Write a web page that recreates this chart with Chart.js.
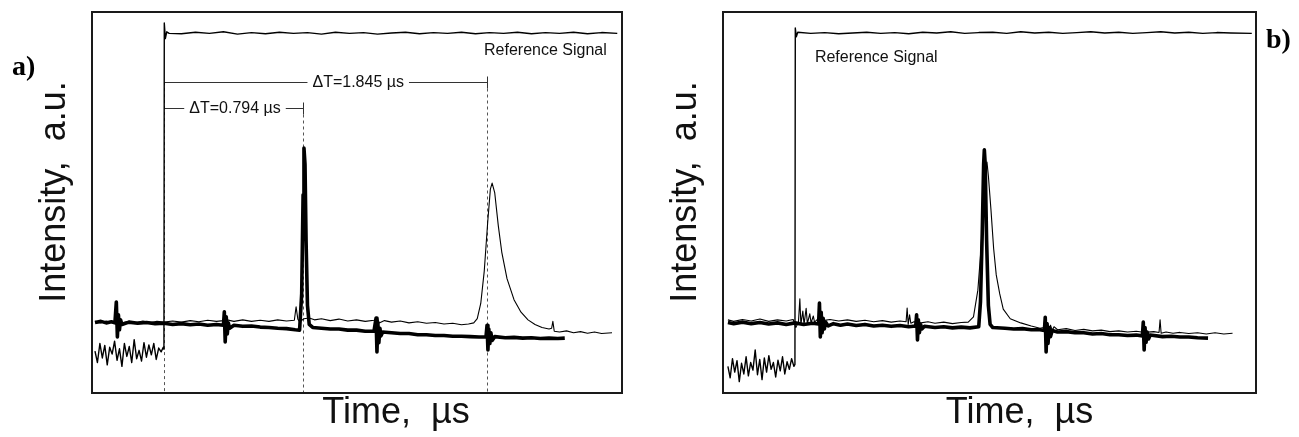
<!DOCTYPE html>
<html>
<head>
<meta charset="utf-8">
<script src="https://cdn.jsdelivr.net/npm/chart.js@4.4.1/dist/chart.umd.min.js"></script>
<style>
  body { margin: 0; background: #fff; }
  #wrap { position: relative; width: 1299px; height: 437px; }
  canvas { position: absolute; top: 0; }
  #chartA { left: 0; }
  #chartB { left: 650px; }
</style>
</head>
<body>
<div id="wrap">
  <canvas id="chartA" width="650" height="437"></canvas>
  <canvas id="chartB" width="649" height="437"></canvas>
</div>
<script>
// time axis in µs (reference step at t = 0), intensity in a.u.
const xRangeA = [-0.411, 2.617];
const xRangeB = [-0.411, 2.634];
const yRange = [0, 10];

// measured delays in panel a)
const dtValues = [0.794, 1.845];
const dtLevels = [7.48, 8.16];
const dtLabelT = [0.406, 1.11];

// where the "Reference Signal" caption sits [t, a.u.]
const refLabelA = [2.53, 8.87];
const refLabelB = [0.114, 8.68];

// ---- panel a) traces [t, intensity] ----
const refA = [
  [-0.394,1.10],[-0.38,0.80],[-0.366,1.30],[-0.352,0.92],[-0.338,1.25],[-0.324,0.74],[-0.31,1.20],
  [-0.296,1.02],[-0.282,1.36],[-0.268,0.86],[-0.254,1.16],[-0.24,0.70],[-0.226,1.30],[-0.212,0.96],
  [-0.198,1.22],[-0.184,0.80],[-0.17,1.40],[-0.156,0.90],[-0.142,1.12],[-0.128,0.84],[-0.114,1.32],
  [-0.1,0.94],[-0.086,1.26],[-0.072,1.00],[-0.058,1.30],[-0.044,0.88],[-0.03,1.18],[-0.016,1.08],
  [-0.004,1.20],[0.0,1.15],[0.002,9.71],[0.008,9.30],[0.016,9.48],[0.03,9.44],
  [0.1,9.43],[0.18,9.47],[0.26,9.44],[0.34,9.48],[0.42,9.42],[0.5,9.46],[0.58,9.43],[0.66,9.47],
  [0.74,9.44],[0.82,9.46],[0.9,9.42],[0.98,9.47],[1.06,9.44],[1.14,9.46],[1.22,9.42],[1.3,9.45],
  [1.38,9.47],[1.46,9.43],[1.54,9.46],[1.62,9.44],[1.7,9.47],[1.78,9.43],[1.86,9.46],[1.94,9.44],
  [2.02,9.47],[2.1,9.43],[2.18,9.46],[2.26,9.44],[2.34,9.47],[2.42,9.43],[2.5,9.46],[2.59,9.44]
];
const thinA = [
  [-0.394,1.88],[-0.36,1.84],[-0.33,1.89],[-0.3,1.85],[-0.27,1.90],[-0.24,1.84],[-0.2,1.88],
  [-0.16,1.85],[-0.12,1.89],[-0.08,1.84],[-0.04,1.88],[0,1.86],[0.05,1.89],[0.1,1.86],[0.15,1.90],
  [0.2,1.87],[0.25,1.91],[0.3,1.88],[0.34,1.90],[0.35,2.00],[0.355,1.78],[0.36,1.92],[0.4,1.88],
  [0.45,1.92],[0.5,1.88],[0.55,1.91],[0.6,1.88],[0.65,1.92],[0.7,1.89],[0.745,1.91],[0.755,2.26],
  [0.765,1.94],[0.775,1.87],[0.8,1.95],[0.83,1.97],[0.86,1.92],[0.9,1.95],[0.95,1.90],[1.0,1.94],
  [1.05,1.89],[1.1,1.92],[1.15,1.88],[1.2,1.91],[1.22,1.96],[1.23,1.84],[1.26,1.90],[1.3,1.86],
  [1.35,1.89],[1.4,1.84],[1.45,1.87],[1.5,1.83],[1.55,1.85],[1.6,1.81],[1.65,1.83],[1.7,1.79],
  [1.74,1.81],[1.77,1.84],[1.79,1.95],[1.81,2.35],[1.83,3.2],[1.85,4.5],[1.865,5.35],[1.875,5.51],
  [1.89,5.25],[1.91,4.4],[1.93,3.7],[1.96,3.0],[2.0,2.45],[2.04,2.12],[2.08,1.92],[2.12,1.80],
  [2.16,1.72],[2.2,1.68],[2.215,1.70],[2.222,1.88],[2.23,1.62],[2.26,1.60],[2.3,1.63],[2.34,1.58],
  [2.38,1.61],[2.42,1.57],[2.46,1.60],[2.5,1.56],[2.56,1.58]
];
const boldA = [
  [-0.394,1.85],[-0.36,1.88],[-0.33,1.84],[-0.3,1.87],[-0.28,1.84],[-0.272,2.39],[-0.266,1.47],
  [-0.26,2.05],[-0.254,1.66],[-0.248,1.92],[-0.24,1.80],[-0.2,1.86],[-0.15,1.83],[-0.1,1.85],
  [-0.05,1.82],[0,1.83],[0.05,1.80],[0.1,1.82],[0.15,1.79],[0.2,1.81],[0.25,1.78],[0.3,1.80],
  [0.34,1.78],[0.345,2.13],[0.35,1.34],[0.356,2.0],[0.362,1.55],[0.368,1.84],[0.375,1.70],
  [0.4,1.78],[0.45,1.75],[0.5,1.76],[0.55,1.73],[0.6,1.72],[0.65,1.70],[0.7,1.69],[0.75,1.66],
  [0.775,1.65],[0.787,2.6],[0.795,5.2],[0.8,6.43],[0.806,6.0],[0.812,4.0],[0.82,2.3],[0.83,1.80],
  [0.85,1.72],[0.9,1.70],[0.95,1.68],[1.0,1.68],[1.05,1.65],[1.1,1.65],[1.15,1.62],[1.2,1.62],
  [1.212,1.97],[1.217,1.08],[1.222,1.85],[1.228,1.32],[1.234,1.70],[1.24,1.50],[1.25,1.60],
  [1.3,1.58],[1.35,1.56],[1.4,1.56],[1.45,1.53],[1.5,1.53],[1.55,1.51],[1.6,1.51],[1.65,1.49],
  [1.7,1.49],[1.75,1.48],[1.8,1.47],[1.84,1.47],[1.846,1.78],[1.851,1.13],[1.856,1.68],
  [1.862,1.30],[1.868,1.58],[1.875,1.38],[1.89,1.48],[1.95,1.45],[2.0,1.46],[2.05,1.44],
  [2.1,1.45],[2.15,1.43],[2.2,1.44],[2.25,1.43],[2.29,1.44]
];

// ---- panel b) traces ----
const refB = [
  [-0.383,0.70],[-0.37,0.40],[-0.357,0.90],[-0.344,0.55],[-0.331,0.85],[-0.318,0.30],[-0.305,0.78],
  [-0.292,0.50],[-0.279,0.95],[-0.266,0.45],[-0.253,0.80],[-0.24,0.60],[-0.227,1.13],[-0.214,0.48],
  [-0.201,0.88],[-0.188,0.35],[-0.175,0.92],[-0.162,0.55],[-0.149,0.98],[-0.136,0.62],[-0.123,0.80],
  [-0.11,0.42],[-0.097,0.86],[-0.084,0.58],[-0.071,0.95],[-0.058,0.50],[-0.045,0.82],[-0.032,0.62],
  [-0.019,0.90],[-0.006,0.70],[0,0.75],[0.002,9.58],[0.008,9.35],[0.016,9.47],
  [0.09,9.44],[0.17,9.46],[0.25,9.43],[0.33,9.45],[0.41,9.47],[0.49,9.44],[0.57,9.46],[0.65,9.43],
  [0.73,9.47],[0.81,9.45],[0.89,9.48],[0.97,9.44],[1.05,9.46],[1.13,9.47],[1.21,9.44],[1.29,9.48],
  [1.37,9.45],[1.45,9.47],[1.53,9.44],[1.61,9.46],[1.69,9.48],[1.77,9.45],[1.85,9.47],[1.93,9.44],
  [2.01,9.46],[2.09,9.48],[2.17,9.45],[2.25,9.47],[2.33,9.44],[2.41,9.46],[2.49,9.45],[2.61,9.44]
];
const thinB = [
  [-0.383,1.92],[-0.35,1.88],[-0.3,1.93],[-0.25,1.89],[-0.2,1.94],[-0.15,1.88],[-0.1,1.92],
  [-0.05,1.89],[-0.01,1.93],[0.005,1.72],[0.02,1.86],[0.028,2.47],[0.034,1.80],[0.045,2.15],
  [0.052,1.80],[0.064,2.22],[0.071,1.82],[0.085,2.08],[0.092,1.84],[0.105,2.02],[0.112,1.86],
  [0.13,1.94],[0.16,1.90],[0.2,1.93],[0.25,1.89],[0.3,1.92],[0.35,1.88],[0.4,1.91],[0.45,1.87],
  [0.5,1.90],[0.55,1.86],[0.6,1.89],[0.635,1.87],[0.641,2.23],[0.647,1.80],[0.655,2.05],[0.662,1.83],
  [0.68,1.87],[0.72,1.84],[0.76,1.87],[0.8,1.83],[0.85,1.86],[0.9,1.82],[0.95,1.85],[0.99,1.86],
  [1.02,2.0],[1.045,2.7],[1.06,3.6],[1.075,4.7],[1.09,5.7],[1.097,6.06],[1.105,5.7],[1.12,4.8],
  [1.135,3.8],[1.15,3.1],[1.17,2.6],[1.19,2.2],[1.23,1.95],[1.29,1.84],[1.35,1.76],[1.4,1.70],
  [1.42,1.72],[1.43,1.90],[1.437,1.64],[1.445,1.82],[1.452,1.62],[1.46,1.78],[1.47,1.64],[1.48,1.74],
  [1.5,1.66],[1.55,1.69],[1.6,1.64],[1.65,1.67],[1.7,1.63],[1.75,1.65],[1.8,1.61],[1.85,1.63],
  [1.9,1.60],[1.95,1.62],[2.0,1.59],[2.05,1.61],[2.08,1.59],[2.086,1.92],[2.092,1.57],[2.12,1.60],
  [2.16,1.57],[2.2,1.59],[2.25,1.56],[2.3,1.58],[2.35,1.55],[2.4,1.58],[2.45,1.55],[2.5,1.57]
];
const boldB = [
  [-0.383,1.85],[-0.35,1.82],[-0.3,1.86],[-0.25,1.82],[-0.2,1.85],[-0.15,1.81],[-0.1,1.84],
  [-0.05,1.80],[0,1.84],[0.05,1.80],[0.1,1.83],[0.135,1.81],[0.14,2.36],[0.145,1.47],[0.15,2.12],
  [0.155,1.58],[0.161,1.96],[0.168,1.68],[0.175,1.86],[0.19,1.76],[0.22,1.82],[0.26,1.78],
  [0.3,1.81],[0.35,1.77],[0.4,1.80],[0.45,1.76],[0.5,1.78],[0.55,1.75],[0.6,1.77],[0.65,1.74],
  [0.69,1.76],[0.695,2.05],[0.7,1.39],[0.705,1.92],[0.711,1.58],[0.718,1.80],[0.725,1.68],
  [0.74,1.75],[0.8,1.72],[0.85,1.74],[0.9,1.71],[0.95,1.73],[1.0,1.71],[1.05,1.74],[1.06,2.4],
  [1.07,4.2],[1.078,6.0],[1.082,6.38],[1.087,6.0],[1.095,4.0],[1.105,2.3],[1.115,1.80],[1.13,1.72],
  [1.2,1.70],[1.25,1.68],[1.3,1.69],[1.35,1.66],[1.4,1.66],[1.425,1.64],[1.43,1.99],[1.435,1.08],
  [1.44,1.82],[1.446,1.30],[1.452,1.72],[1.46,1.48],[1.47,1.64],[1.5,1.60],[1.55,1.61],[1.6,1.58],
  [1.65,1.58],[1.7,1.55],[1.75,1.56],[1.8,1.53],[1.85,1.53],[1.9,1.51],[1.95,1.52],[1.985,1.50],
  [1.99,1.86],[1.995,1.13],[2.0,1.72],[2.006,1.33],[2.012,1.60],[2.02,1.42],[2.03,1.52],[2.1,1.48],
  [2.15,1.49],[2.2,1.47],[2.25,1.47],[2.3,1.45],[2.36,1.44]
];

const SANS = '"Liberation Sans", Arial, Helvetica, sans-serif';

function trace(points, width) {
  return {
    data: points.map(p => ({ x: p[0], y: p[1] })),
    borderColor: '#000',
    borderWidth: width,
    borderJoinStyle: 'round',
    pointRadius: 0,
    tension: 0,
    fill: false
  };
}

// frame, annotations, axis titles and panel letter
const framePlugin = {
  id: 'frame',
  beforeDatasetsDraw(chart, args, opts) {
    if (!opts.deltas) return;
    const { ctx, chartArea: a, scales: { x, y } } = chart;
    const x0 = Math.round(x.getPixelForValue(0)) + 0.5;
    ctx.save();
    ctx.font = '16px ' + SANS;
    ctx.lineWidth = 1;
    // dashed line under the step
    ctx.setLineDash([3, 3]);
    ctx.strokeStyle = '#555';
    ctx.beginPath();
    ctx.moveTo(x0, y.getPixelForValue(Math.max(...dtLevels)));
    ctx.lineTo(x0, a.bottom);
    ctx.stroke();
    dtValues.forEach((dt, i) => {
      const yy = Math.round(y.getPixelForValue(dtLevels[i])) + 0.5;
      const x1 = Math.round(x.getPixelForValue(dt)) + 0.5;
      const label = 'ΔT=' + dt.toFixed(3) + ' µs';
      const w = ctx.measureText(label).width;
      const xc = x.getPixelForValue(dtLabelT[i]);
      ctx.setLineDash([3, 3]);
      ctx.strokeStyle = '#555';
      ctx.beginPath();
      ctx.moveTo(x1, yy);
      ctx.lineTo(x1, a.bottom);
      ctx.stroke();
      ctx.setLineDash([]);
      ctx.strokeStyle = '#333';
      ctx.beginPath();
      ctx.moveTo(x0, yy); ctx.lineTo(xc - w / 2 - 5, yy);
      ctx.moveTo(xc + w / 2 + 5, yy); ctx.lineTo(x1, yy);
      ctx.moveTo(x1, yy - 6); ctx.lineTo(x1, yy + 6);
      ctx.stroke();
      ctx.fillStyle = '#111';
      ctx.textAlign = 'center';
      ctx.textBaseline = 'middle';
      ctx.fillText(label, xc, yy);
    });
    ctx.restore();
  },
  afterDraw(chart, args, opts) {
    const { ctx, chartArea: a, scales: { x, y } } = chart;
    ctx.save();
    ctx.strokeStyle = '#1a1a1a';
    ctx.lineWidth = 2;
    ctx.strokeRect(a.left, a.top, a.right - a.left, a.bottom - a.top);

    ctx.fillStyle = '#111';
    ctx.font = '16px ' + SANS;
    ctx.textAlign = opts.refAlign;
    ctx.textBaseline = 'alphabetic';
    ctx.fillText('Reference Signal', x.getPixelForValue(opts.refPos[0]), y.getPixelForValue(opts.refPos[1]));

    ctx.font = '36px ' + SANS;
    ctx.textAlign = 'center';
    ctx.textBaseline = 'middle';
    ctx.fillText('Time,  µs', (a.left + a.right) / 2 + opts.xTitleShift, a.bottom + 20);
    ctx.translate(a.left - 37, a.top + 180);
    ctx.rotate(-Math.PI / 2);
    ctx.fillText('Intensity,  a.u.', 0, 0);
    ctx.restore();

    ctx.save();
    ctx.fillStyle = '#000';
    ctx.font = 'bold 28px "Liberation Serif", "Times New Roman", serif';
    ctx.textAlign = 'left';
    ctx.textBaseline = 'alphabetic';
    ctx.fillText(opts.letter, opts.letterAt[0], opts.letterAt[1]);
    ctx.restore();
  }
};

function makeChart(id, xRange, traces, padding, frameOpts) {
  return new Chart(document.getElementById(id), {
    type: 'line',
    data: { datasets: traces },
    options: {
      responsive: false,
      animation: false,
      devicePixelRatio: 1,
      events: [],
      layout: { padding: padding },
      scales: {
        x: { type: 'linear', min: xRange[0], max: xRange[1], display: false },
        y: { type: 'linear', min: yRange[0], max: yRange[1], display: false }
      },
      plugins: {
        legend: { display: false },
        tooltip: { enabled: false },
        frame: frameOpts
      }
    },
    plugins: [framePlugin]
  });
}

makeChart('chartA', xRangeA,
  [trace(refA, 1.4), trace(thinA, 1.1), trace(boldA, 3.6)],
  { left: 92, top: 12, right: 28, bottom: 44 },
  { deltas: true, refPos: refLabelA, refAlign: 'right', letter: 'a)', letterAt: [12, 75], xTitleShift: 39 });

makeChart('chartB', xRangeB,
  [trace(refB, 1.4), trace(thinB, 1.1), trace(boldB, 3.6)],
  { left: 73, top: 12, right: 43, bottom: 44 },
  { deltas: false, refPos: refLabelB, refAlign: 'left', letter: 'b)', letterAt: [616, 48], xTitleShift: 30 });
</script>
</body>
</html>
